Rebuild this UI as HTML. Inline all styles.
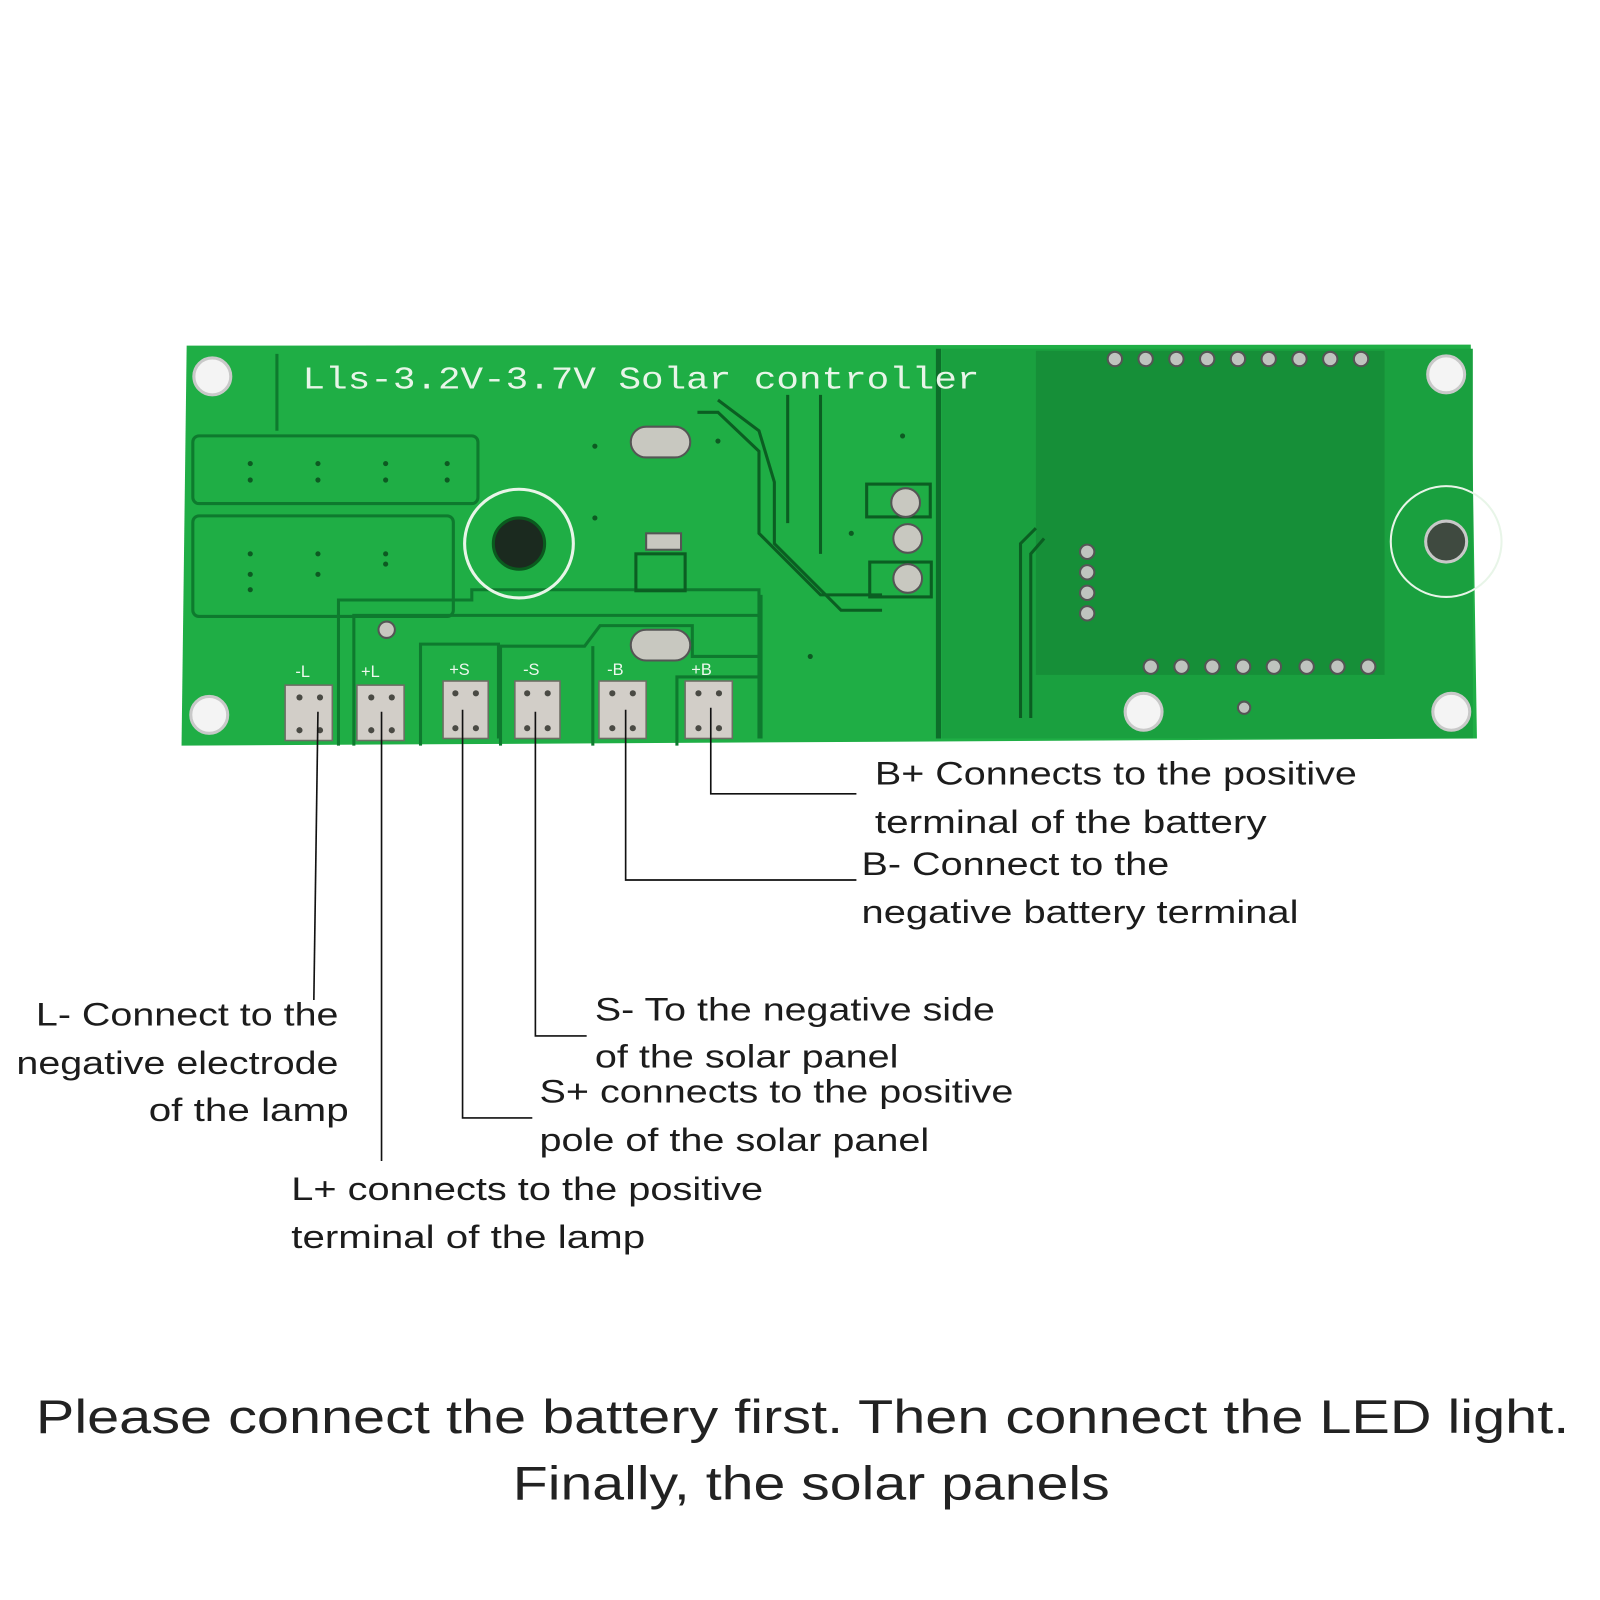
<!DOCTYPE html>
<html><head><meta charset="utf-8"><style>
html,body{margin:0;padding:0;background:#fff;width:1600px;height:1600px;overflow:hidden}
svg{display:block}
.lb{font-family:"Liberation Sans",sans-serif;font-size:32px;fill:#1c1c1c}
.bt{font-family:"Liberation Sans",sans-serif;font-size:46px;fill:#222}
.ld{stroke:#111;stroke-width:1.6;fill:none}
</style></head><body>
<svg width="1600" height="1600" viewBox="0 0 1560 1560" xmlns="http://www.w3.org/2000/svg">
<rect width="1560" height="1560" fill="#fff"/>
<polygon points="182,337 1434,336 1440,720 177,727" fill="#1fae45"/>
<rect x="918" y="340" width="518" height="380" fill="#1aa03f"/>
<rect x="1010" y="342" width="340" height="316" fill="#168f38"/>
<line x1="915" y1="340" x2="915" y2="720" stroke="#0d6e2a" stroke-width="5"/>
<g fill="none" stroke="#0e7a2e" stroke-width="3">
<path d="M270,345 V420"/>
<rect x="188" y="425" width="278" height="66" rx="6"/>
<rect x="188" y="503" width="254" height="98" rx="6"/>
<path d="M330,727 V585 H460 V575 H740 V720"/>
<path d="M345,727 V600 H740"/>
<path d="M410,727 V628 H486 V720"/>
<path d="M488,727 V630 H570 L585,610 H675 V640 H740"/>
<path d="M578,727 V630"/>
<path d="M660,727 V660 H740"/>
<path d="M742,580 V720"/>
</g>
<g fill="none" stroke="#0b5e22" stroke-width="3">
<path d="M680,402 H700 L740,440 V520 L800,580 H860"/>
<path d="M700,390 L740,420 L755,470 V530 L820,595 H860"/>
<path d="M768,385 V510"/>
<path d="M800,385 V540"/>
<path d="M995,700 V530 L1010,515"/>
<path d="M1005,700 V540 L1018,525"/>
<rect x="845" y="472" width="62" height="32"/>
<rect x="848" y="548" width="60" height="34"/>
<rect x="620" y="540" width="48" height="36"/>
</g>
<text x="295" y="379" font-family="Liberation Mono,monospace" font-size="31" fill="#e8f5e8" textLength="660" lengthAdjust="spacingAndGlyphs">Lls-3.2V-3.7V Solar controller</text>
<g fill="#f4f4f4" stroke="#c9c9c9" stroke-width="3">
<circle cx="207" cy="367" r="18"/><circle cx="1410" cy="365" r="18"/>
<circle cx="204" cy="697" r="18"/><circle cx="1415" cy="694" r="18"/>
<circle cx="1115" cy="694" r="18"/>
</g>
<circle cx="1410" cy="528" r="54" fill="none" stroke="#e8f5e8" stroke-width="2"/>
<circle cx="1410" cy="528" r="20" fill="#3f4a40" stroke="#c8c8c8" stroke-width="3"/>
<circle cx="506" cy="530" r="53" fill="none" stroke="#e8f5e8" stroke-width="3"/>
<circle cx="506" cy="530" r="25" fill="#1b2a1f" stroke="#0a5a1e" stroke-width="3"/>
<g fill="#c8c8c0" stroke="#555" stroke-width="2">
<rect x="615" y="416" width="58" height="30" rx="15"/>
<rect x="615" y="614" width="58" height="30" rx="15"/>
<circle cx="883" cy="490" r="14"/><circle cx="885" cy="525" r="14"/><circle cx="885" cy="564" r="14"/>
<rect x="630" y="520" width="34" height="16"/>
<circle cx="377" cy="614" r="8"/>
</g>
<g fill="#bfc4bf" stroke="#555" stroke-width="2">
<circle cx="1087" cy="350" r="7"/><circle cx="1117" cy="350" r="7"/><circle cx="1147" cy="350" r="7"/><circle cx="1177" cy="350" r="7"/><circle cx="1207" cy="350" r="7"/><circle cx="1237" cy="350" r="7"/><circle cx="1267" cy="350" r="7"/><circle cx="1297" cy="350" r="7"/><circle cx="1327" cy="350" r="7"/>
<circle cx="1122" cy="650" r="7"/><circle cx="1152" cy="650" r="7"/><circle cx="1182" cy="650" r="7"/><circle cx="1212" cy="650" r="7"/><circle cx="1242" cy="650" r="7"/><circle cx="1274" cy="650" r="7"/><circle cx="1304" cy="650" r="7"/><circle cx="1334" cy="650" r="7"/>
<circle cx="1060" cy="538" r="7"/><circle cx="1060" cy="558" r="7"/><circle cx="1060" cy="578" r="7"/><circle cx="1060" cy="598" r="7"/>
<circle cx="1213" cy="690" r="6"/>
</g>
<g fill="#0d5a22">
<circle cx="244" cy="452" r="2.5"/><circle cx="244" cy="468" r="2.5"/><circle cx="310" cy="452" r="2.5"/><circle cx="310" cy="468" r="2.5"/><circle cx="376" cy="452" r="2.5"/><circle cx="376" cy="468" r="2.5"/><circle cx="436" cy="452" r="2.5"/><circle cx="436" cy="468" r="2.5"/>
<circle cx="244" cy="540" r="2.5"/><circle cx="244" cy="560" r="2.5"/><circle cx="244" cy="575" r="2.5"/><circle cx="310" cy="540" r="2.5"/><circle cx="310" cy="560" r="2.5"/><circle cx="376" cy="540" r="2.5"/><circle cx="376" cy="550" r="2.5"/>
<circle cx="580" cy="435" r="2.5"/><circle cx="580" cy="505" r="2.5"/><circle cx="700" cy="430" r="2.5"/><circle cx="830" cy="520" r="2.5"/><circle cx="880" cy="425" r="2.5"/><circle cx="790" cy="640" r="2.5"/>
</g>
<g font-family="Liberation Sans,sans-serif" font-size="16" fill="#eef8ee">
<text x="288" y="660">-L</text><text x="352" y="660">+L</text><text x="438" y="658">+S</text><text x="510" y="658">-S</text><text x="592" y="658">-B</text><text x="674" y="658">+B</text>
</g>
<g fill="#d2cec8" stroke="#6d6d64" stroke-width="1.5">
<rect x="278" y="668" width="46" height="54"/><rect x="348" y="668" width="46" height="54"/>
<rect x="432" y="664" width="44" height="56"/><rect x="502" y="664" width="44" height="56"/>
<rect x="584" y="664" width="46" height="56"/><rect x="668" y="664" width="46" height="56"/>
</g>
<g fill="#4a4a44">
<circle cx="292" cy="680" r="3"/><circle cx="312" cy="680" r="3"/><circle cx="292" cy="712" r="3"/><circle cx="312" cy="712" r="3"/>
<circle cx="362" cy="680" r="3"/><circle cx="382" cy="680" r="3"/><circle cx="362" cy="712" r="3"/><circle cx="382" cy="712" r="3"/>
<circle cx="444" cy="676" r="3"/><circle cx="464" cy="676" r="3"/><circle cx="444" cy="710" r="3"/><circle cx="464" cy="710" r="3"/>
<circle cx="514" cy="676" r="3"/><circle cx="534" cy="676" r="3"/><circle cx="514" cy="710" r="3"/><circle cx="534" cy="710" r="3"/>
<circle cx="597" cy="676" r="3"/><circle cx="617" cy="676" r="3"/><circle cx="597" cy="710" r="3"/><circle cx="617" cy="710" r="3"/>
<circle cx="681" cy="676" r="3"/><circle cx="701" cy="676" r="3"/><circle cx="681" cy="710" r="3"/><circle cx="701" cy="710" r="3"/>
</g>
<path class="ld" d="M693,690 V774 H835"/>
<path class="ld" d="M610,692 V858 H835"/>
<path class="ld" d="M522,694 V1010 H572"/>
<path class="ld" d="M451,692 V1090 H519"/>
<path class="ld" d="M310,694 L306,975"/>
<path class="ld" d="M372,694 V1132"/>
<text class="lb" x="853" y="765" textLength="470" lengthAdjust="spacingAndGlyphs">B+ Connects to the positive</text>
<text class="lb" x="853" y="812" textLength="382" lengthAdjust="spacingAndGlyphs">terminal of the battery</text>
<text class="lb" x="840" y="853" textLength="300" lengthAdjust="spacingAndGlyphs">B- Connect to the</text>
<text class="lb" x="840" y="900" textLength="426" lengthAdjust="spacingAndGlyphs">negative battery terminal</text>
<text class="lb" x="580" y="995" textLength="390" lengthAdjust="spacingAndGlyphs">S- To the negative side</text>
<text class="lb" x="580" y="1041" textLength="296" lengthAdjust="spacingAndGlyphs">of the solar panel</text>
<text class="lb" x="526" y="1075" textLength="462" lengthAdjust="spacingAndGlyphs">S+ connects to the positive</text>
<text class="lb" x="526" y="1122" textLength="380" lengthAdjust="spacingAndGlyphs">pole of the solar panel</text>
<text class="lb" x="35" y="1000" textLength="295" lengthAdjust="spacingAndGlyphs">L- Connect to the</text>
<text class="lb" x="16" y="1047" textLength="314" lengthAdjust="spacingAndGlyphs">negative electrode</text>
<text class="lb" x="145" y="1093" textLength="195" lengthAdjust="spacingAndGlyphs">of the lamp</text>
<text class="lb" x="284" y="1170" textLength="460" lengthAdjust="spacingAndGlyphs">L+ connects to the positive</text>
<text class="lb" x="284" y="1217" textLength="345" lengthAdjust="spacingAndGlyphs">terminal of the lamp</text>
<text class="bt" x="35" y="1397" textLength="1495" lengthAdjust="spacingAndGlyphs">Please connect the battery first. Then connect the LED light.</text>
<text class="bt" x="500" y="1462" textLength="582" lengthAdjust="spacingAndGlyphs">Finally, the solar panels</text>
</svg>
</body></html>
